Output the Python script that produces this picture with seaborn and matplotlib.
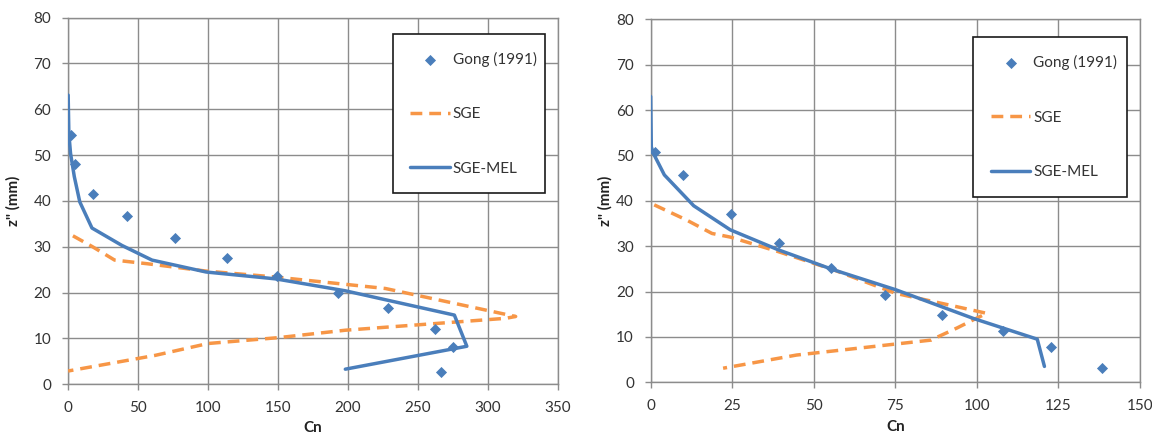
import matplotlib
matplotlib.use("Agg")
import matplotlib.pyplot as plt
import seaborn as sns
import pandas as pd

# Left panel: concentration profile Cn against height z"
gong_left_cn = [2, 5.5, 18, 42, 76.4, 113.5, 149.6, 193, 229, 262.6, 275, 266.3]
gong_left_z = [54.5, 48.0, 41.5, 36.8, 32.0, 27.6, 23.7, 19.9, 16.7, 12.1, 8.1, 2.7]
sge_left_cn = [3.7, 17.8, 33.5, 57, 98.9, 148.6, 227, 310.7, 320, 313, 198.3, 151.2, 100.2, 62.3, 0.3]
sge_left_z = [32.4, 30.0, 27.1, 26.3, 24.7, 23.4, 20.9, 15.4, 14.8, 14.4, 11.8, 10.2, 8.9, 6.3, 2.9]
mel_left_cn = [0.3, 0.8, 2, 4.7, 8.6, 17.3, 38.7, 60.2, 98.9, 148.6, 198.3, 276.2, 285.1, 198.3]
mel_left_z = [63.1, 54.7, 50.4, 45.3, 39.8, 34.1, 30.3, 27.1, 24.5, 23.0, 20.4, 15.1, 8.3, 3.3]

# Right panel
gong_right_cn = [1.35, 9.8, 24.7, 39.4, 55.4, 71.7, 89.2, 107.9, 122.7, 138.4]
gong_right_z = [50.7, 45.6, 37.1, 30.8, 25.1, 19.3, 14.8, 11.3, 7.7, 3.1]
sge_right_cn = [1.1, 10.9, 18.8, 24.4, 39.1, 56, 75.1, 89.8, 103, 99, 94, 88, 86, 44.7, 22.2]
sge_right_z = [39.1, 35.8, 32.8, 32.0, 28.8, 24.8, 19.6, 17.3, 15.2, 13.8, 12.0, 10.0, 9.3, 6.0, 3.1]
mel_right_cn = [0, 0.2, 0.8, 4.2, 13.2, 24.4, 39.1, 56, 75.1, 98.8, 118.5, 120.7]
mel_right_z = [63.0, 51.9, 50.5, 45.7, 38.9, 33.6, 29.2, 24.8, 20.4, 14.1, 9.5, 3.5]

x_ticks_left = [0, 50, 100, 150, 200, 250, 300, 350]
x_ticks_right = [0, 25, 50, 75, 100, 125, 150]
y_ticks = [0, 10, 20, 30, 40, 50, 60, 70, 80]

label_gong = "Gong (1991)"
label_sge = "SGE"
label_mel = "SGE-MEL"

BLUE = "#4A7EBB"
ORANGE = "#F79646"
GRID = "#8C8C8C"

sns.set_style("white")
plt.rcParams["font.family"] = ["Lato", "DejaVu Sans"]

fig = plt.figure(figsize=(11.52, 4.37), dpi=100)
ax_l = fig.add_axes([0.0588, 0.1206, 0.4253, 0.839])
ax_r = fig.add_axes([0.5648, 0.1252, 0.4248, 0.8307])


def draw_panel(ax, g_cn, g_z, s_cn, s_z, m_cn, m_z, xticks, legend_box, ylab_x, xlab_y):
    gong = pd.DataFrame({"Cn": g_cn, "z": g_z})
    sge = pd.DataFrame({"Cn": s_cn, "z": s_z})
    mel = pd.DataFrame({"Cn": m_cn, "z": m_z})

    sns.scatterplot(data=gong, x="Cn", y="z", ax=ax, marker="D", s=32,
                    color=BLUE, edgecolor=BLUE, linewidth=0, label=label_gong, zorder=4)
    sns.lineplot(data=sge, x="Cn", y="z", ax=ax, sort=False, estimator=None,
                 color=ORANGE, linewidth=2.5, label=label_sge, zorder=3)
    sns.lineplot(data=mel, x="Cn", y="z", ax=ax, sort=False, estimator=None,
                 color=BLUE, linewidth=2.5, label=label_mel, zorder=3)
    ax.lines[0].set_dashes((3.4, 2.0))

    ax.set_xlim(xticks[0], xticks[-1])
    ax.set_ylim(y_ticks[0], y_ticks[-1])
    ax.set_xticks(xticks)
    ax.set_yticks(y_ticks)
    ax.grid(True, color=GRID, linewidth=1.0)
    ax.set_axisbelow(True)
    for sp in ax.spines.values():
        sp.set_color(GRID)
        sp.set_linewidth(1.0)
    ax.tick_params(axis="both", direction="out", length=4, width=1.0, color=GRID,
                   labelsize=11, labelcolor="#333333", pad=8,
                   bottom=True, left=True)

    ax.set_xlabel("Cn", fontsize=11, fontweight="bold", color="#222222")
    ax.set_ylabel('z" (mm)', fontsize=11, fontweight="bold", color="#222222")
    ax.xaxis.set_label_coords(0.5, xlab_y)
    ax.yaxis.set_label_coords(ylab_x, 0.5)

    leg = ax.legend(loc="upper left", bbox_to_anchor=legend_box, mode="expand",
                    frameon=True, fancybox=False, fontsize=11, borderpad=1.15,
                    labelspacing=2.65, handlelength=2.6, handletextpad=0.2,
                    borderaxespad=0)
    frame = leg.get_frame()
    frame.set_edgecolor("#1a1a1a")
    frame.set_linewidth(1.2)
    frame.set_alpha(1)
    for t in leg.get_texts():
        t.set_color("#333333")


draw_panel(ax_l, gong_left_cn, gong_left_z, sge_left_cn, sge_left_z,
           mel_left_cn, mel_left_z, x_ticks_left,
           (0.663, 0.955, 0.312, 0.0), -0.097, -0.100)
draw_panel(ax_r, gong_right_cn, gong_right_z, sge_right_cn, sge_right_z,
           mel_right_cn, mel_right_z, x_ticks_right,
           (0.659, 0.950, 0.315, 0.0), -0.078, -0.103)

fig.savefig("out.png", dpi=100)
